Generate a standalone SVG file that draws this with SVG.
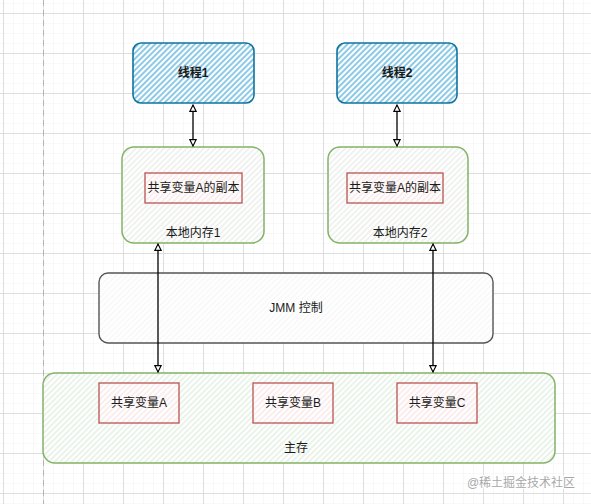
<svg xmlns="http://www.w3.org/2000/svg" width="591" height="504" viewBox="0 0 591 504">
<defs>
<pattern id="gridMinor" patternUnits="userSpaceOnUse" width="10" height="10" x="3" y="3">
<path d="M0 0H10M0 0V10" fill="none" stroke="#f2f2f2" stroke-width="1"/>
</pattern>
<pattern id="gridMajor" patternUnits="userSpaceOnUse" width="40" height="40" x="3" y="13">
<path d="M0 0.5H40M0.5 0V40" fill="none" stroke="#dedede" stroke-width="1"/>
</pattern>
<pattern id="hBlue" patternUnits="userSpaceOnUse" width="4" height="4" patternTransform="rotate(45)">
<rect width="4" height="4" fill="#ffffff"/>
<line x1="1" y1="0" x2="1" y2="4" stroke="#2e9fd6" stroke-width="1.1"/>
</pattern>
<pattern id="hGray" patternUnits="userSpaceOnUse" width="4" height="4" patternTransform="rotate(45)">
<rect width="4" height="4" fill="#ffffff"/>
<line x1="1" y1="0" x2="1" y2="4" stroke="#e2e6df" stroke-width="1"/>
</pattern>
<pattern id="hGreen" patternUnits="userSpaceOnUse" width="4" height="4" patternTransform="rotate(45)">
<rect width="4" height="4" fill="#ffffff"/>
<line x1="1" y1="0" x2="1" y2="4" stroke="#d5e8d4" stroke-width="1"/>
</pattern>
<pattern id="hRed" patternUnits="userSpaceOnUse" width="4" height="4" patternTransform="rotate(45)">
<rect width="4" height="4" fill="#ffffff"/>
<line x1="1" y1="0" x2="1" y2="4" stroke="#f8dcdb" stroke-width="1"/>
</pattern>
<pattern id="hLight" patternUnits="userSpaceOnUse" width="4" height="4" patternTransform="rotate(45)">
<rect width="4" height="4" fill="#ffffff"/>
<line x1="1" y1="0" x2="1" y2="4" stroke="#f4f4f4" stroke-width="1"/>
</pattern>
<marker id="arr" viewBox="0 0 10 10" refX="9" refY="5" markerWidth="8" markerHeight="8" markerUnits="userSpaceOnUse" orient="auto-start-reverse">
<path d="M1 1 L9 5 L1 9 Z" fill="#ffffff" stroke="#000000" stroke-width="1.4"/>
</marker>
</defs>
<style>
text{font-family:"Liberation Sans","Noto Sans CJK SC",sans-serif;font-size:12px;fill:#1a1a1a;text-anchor:middle;dominant-baseline:central}
.bold{font-weight:bold}
.thread{fill:url(#hBlue);stroke:#10739e;stroke-width:1.6}
.local{fill:url(#hGray);stroke:#82b366;stroke-width:1.5}
.main{fill:url(#hGreen);stroke:#82b366;stroke-width:1.5}
.var{fill:url(#hRed);stroke:#b85450;stroke-width:1.3}
.jmm{fill:url(#hLight);stroke:#555555;stroke-width:1.4}
.conn{fill:none;stroke:#000000;stroke-width:1.3;marker-start:url(#arr);marker-end:url(#arr)}
</style>
<rect width="591" height="504" fill="#ffffff"/>
<rect width="591" height="504" fill="url(#gridMinor)"/>
<rect width="591" height="504" fill="url(#gridMajor)"/>
<line x1="43.5" y1="0" x2="43.5" y2="504" stroke="#b5b5b5" stroke-width="1" stroke-dasharray="6 4"/>

<g id="jmm">
<rect class="jmm" x="99" y="273" width="394" height="70" rx="9"/>
<text x="296" y="308">JMM 控制</text>
</g>

<g id="thread1">
<rect class="thread" x="133" y="43" width="121" height="60" rx="8"/>
<text class="bold" x="193" y="73">线程1</text>
</g>
<g id="thread2">
<rect class="thread" x="337" y="43" width="120" height="60" rx="8"/>
<text class="bold" x="397" y="73">线程2</text>
</g>

<g id="local1">
<rect class="local" x="122" y="147" width="142" height="96" rx="12"/>
<text x="193" y="233">本地内存1</text>
</g>
<g id="copy1">
<rect class="var" x="145" y="173" width="97" height="30"/>
<text x="193.5" y="188">共享变量A的副本</text>
</g>
<g id="local2">
<rect class="local" x="328" y="147" width="140" height="96" rx="12"/>
<text x="400" y="233">本地内存2</text>
</g>
<g id="copy2">
<rect class="var" x="347" y="173" width="96" height="30"/>
<text x="395" y="188">共享变量A的副本</text>
</g>

<g id="mainmem">
<rect class="main" x="43" y="373" width="512" height="90" rx="12"/>
<text x="296" y="448">主存</text>
</g>
<g id="varA">
<rect class="var" x="99" y="383" width="80" height="40"/>
<text x="139" y="403">共享变量A</text>
</g>
<g id="varB">
<rect class="var" x="253" y="383" width="80" height="40"/>
<text x="293" y="403">共享变量B</text>
</g>
<g id="varC">
<rect class="var" x="397" y="383" width="80" height="40"/>
<text x="437" y="403">共享变量C</text>
</g>

<g id="connectors">
<line class="conn" x1="193" y1="105" x2="193" y2="146"/>
<line class="conn" x1="397" y1="105" x2="397" y2="146"/>
<line class="conn" x1="158" y1="244" x2="158" y2="372"/>
<line class="conn" x1="433" y1="244" x2="433" y2="372"/>
</g>

<text x="521" y="483" style="font-size:12px;fill:#a8a8a8;stroke:#ffffff;stroke-width:2;paint-order:stroke">@稀土掘金技术社区</text>
</svg>
